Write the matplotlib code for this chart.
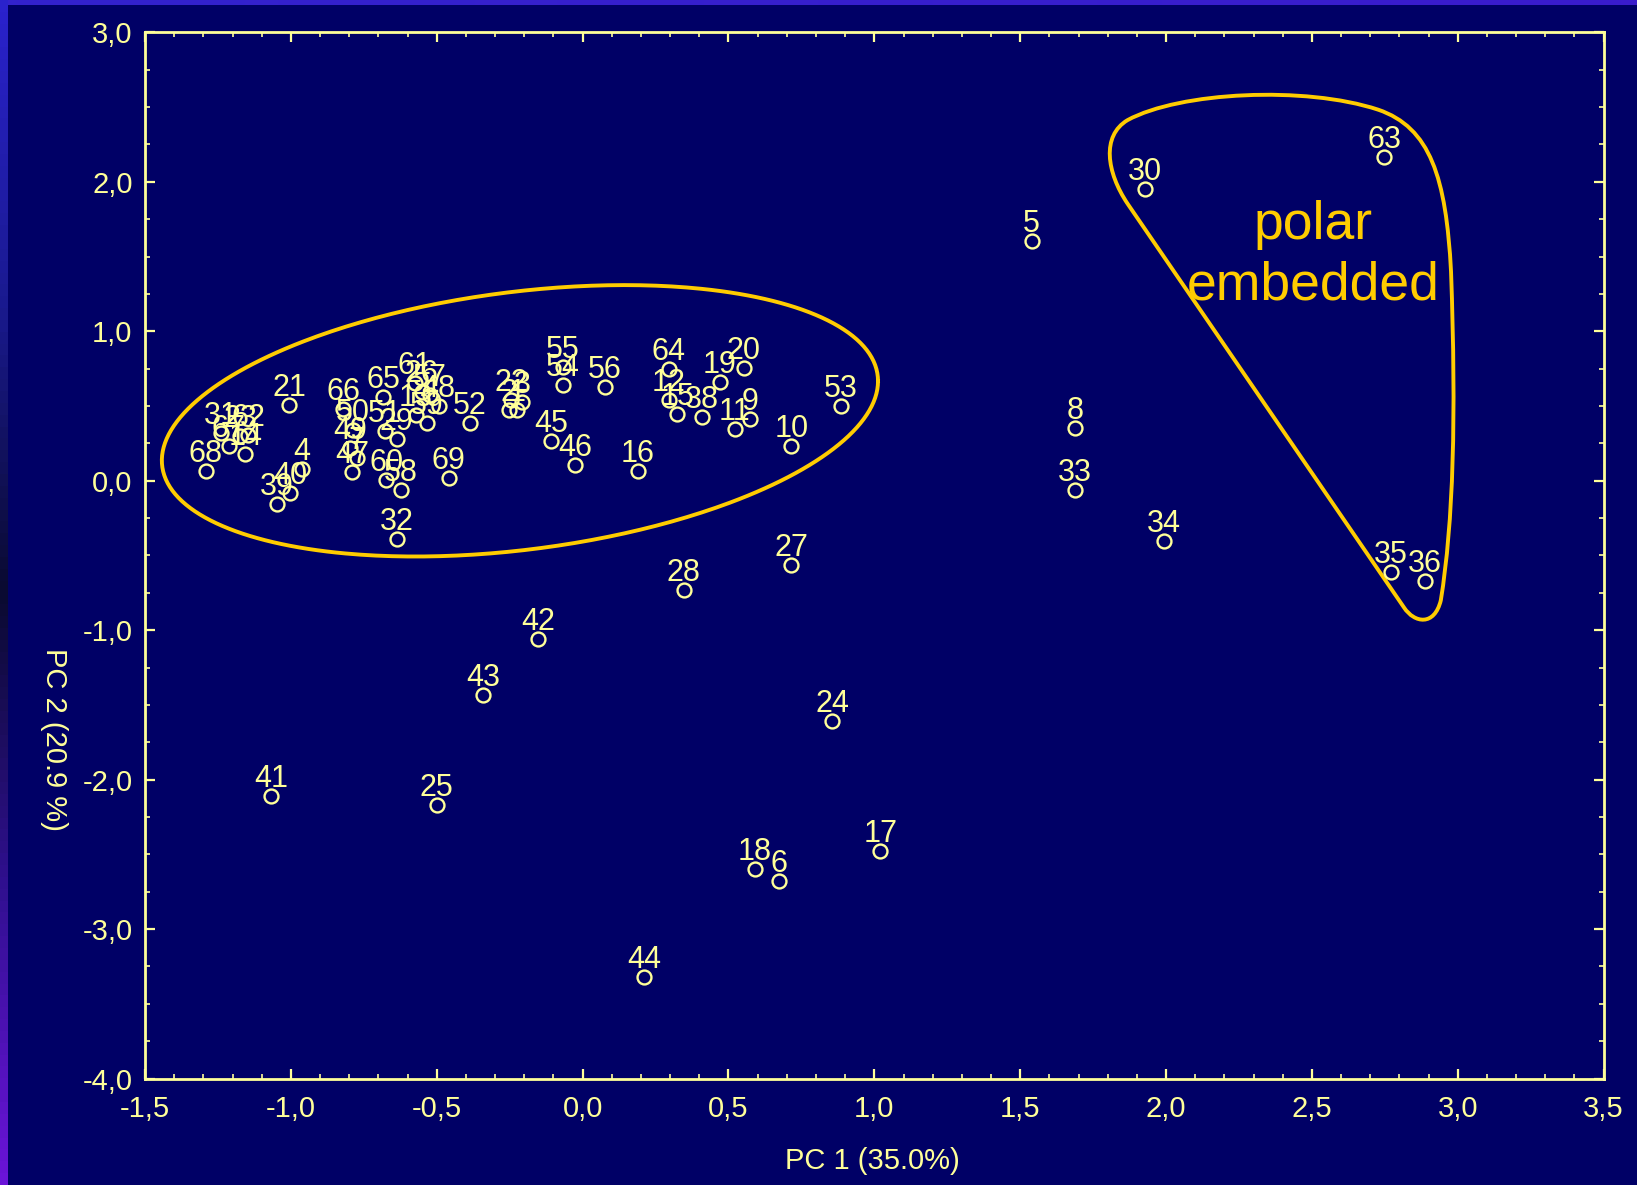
import numpy as np
import matplotlib
matplotlib.use("Agg")
import matplotlib.pyplot as plt
from matplotlib.path import Path
from matplotlib.patches import PathPatch
from matplotlib.ticker import MultipleLocator, FixedLocator, FixedFormatter

plt.rcParams['font.family'] = ['Liberation Sans', 'DejaVu Sans']

# ---- data ----
labels = ['63', '30', '5', '8', '33', '34', '35', '36', '53', '10', '27', '28',
          '42', '43', '24', '41', '25', '17', '18', '6', '44', '16', '46', '45',
          '56', '54', '55', '64', '12', '15', '38', '19', '20', '11', '9', '52',
          '69', '32', '65', '66', '50', '49', '47', '7', '51', '29', '60', '58',
          '21', '4', '40', '39', '68', '31', '67', '23', '14', '62', '61', '26',
          '57', '48', '13', '59', '22', '3', '2', '1']
pc1 = [2.748, 1.929, 1.539, 1.689, 1.689, 1.993, 2.770, 2.888, 0.884, 0.715, 0.715, 0.347,
       -0.154, -0.340, 0.855, -1.067, -0.501, 1.020, 0.590, 0.673, 0.211, 0.189, -0.025, -0.108,
       0.075, -0.068, -0.068, 0.296, 0.296, 0.325, 0.410, 0.471, 0.553, 0.521, 0.574, -0.387,
       -0.459, -0.637, -0.684, -0.820, -0.788, -0.798, -0.791, -0.773, -0.677, -0.637, -0.673, -0.623,
       -1.006, -0.963, -1.003, -1.049, -1.292, -1.239, -1.214, -1.174, -1.156, -1.146, -0.575, -0.552,
       -0.523, -0.494, -0.571, -0.535, -0.244, -0.208, -0.251, -0.226]
pc2 = [2.169, 1.952, 1.603, 0.352, -0.060, -0.402, -0.612, -0.668, 0.499, 0.233, -0.563, -0.731,
       -1.059, -1.436, -1.611, -2.107, -2.170, -2.477, -2.596, -2.680, -3.323, 0.066, 0.108, 0.268,
       0.625, 0.639, 0.764, 0.746, 0.541, 0.446, 0.424, 0.662, 0.752, 0.348, 0.411, 0.387,
       0.017, -0.388, 0.562, 0.478, 0.338, 0.220, 0.059, 0.150, 0.331, 0.282, 0.003, -0.060,
       0.506, 0.080, -0.081, -0.158, 0.066, 0.317, 0.233, 0.296, 0.178, 0.303, 0.653, 0.597,
       0.576, 0.499, 0.440, 0.384, 0.541, 0.527, 0.471, 0.471]

xticks = [-1.5, -1.0, -0.5, 0.0, 0.5, 1.0, 1.5, 2.0, 2.5, 3.0, 3.5]
xtick_labels = ['-1,5', '-1,0', '-0,5', '0,0', '0,5', '1,0', '1,5', '2,0', '2,5', '3,0', '3,5']
yticks = [-4.0, -3.0, -2.0, -1.0, 0.0, 1.0, 2.0, 3.0]
ytick_labels = ['-4,0', '-3,0', '-2,0', '-1,0', '0,0', '1,0', '2,0', '3,0']

x_title = 'PC 1 (35.0%)'
y_title = 'PC 2 (20.9 %)'
group_text = ['polar', 'embedded']

# ---- style ----
BG = '#000066'
YEL = '#ffff99'
GOLD = '#ffcc00'

fig = plt.figure(figsize=(16.37, 11.85), dpi=100, facecolor=BG)

# decorative border strips
top_ax = fig.add_axes([0, 1 - 5 / 1185, 1, 5 / 1185])
top_ax.imshow(np.linspace(0, 1, 100).reshape(1, -1), aspect='auto',
              cmap=matplotlib.colors.LinearSegmentedColormap.from_list('t', ['#3322cc', '#3a1ccc']))
top_ax.axis('off')
left_ax = fig.add_axes([0, 0, 8 / 1637, 1])
left_ax.imshow(np.linspace(0, 1, 100).reshape(-1, 1), aspect='auto',
               cmap=matplotlib.colors.LinearSegmentedColormap.from_list(
                   'l', ['#2a22cc', '#1a1a90', '#0a0a30', '#301090', '#6a14d8']))
left_ax.axis('off')

ax = fig.add_axes([0.08864, 0.08987, 0.89095, 0.88279], facecolor=BG)
ax.set_xlim(-1.5, 3.5)
ax.set_ylim(-4.0, 3.0)

ax.plot(pc1, pc2, linestyle='none', marker='o', markersize=10,
        markerfacecolor='none', markeredgecolor=YEL, markeredgewidth=1.7, zorder=3)
for lab, x, y in zip(labels, pc1, pc2):
    ax.annotate(lab, (x, y), xytext=(0, 6.5), textcoords='offset points',
                ha='center', va='baseline', fontsize=22, color=YEL, zorder=4)

# group outline 1: ellipse around the main cluster
cx, cy = -0.215, 0.401
u = np.array([1.2276, 0.2655])
v = np.array([0.0, 0.8684])
t = np.linspace(0, 2 * np.pi, 400)
ex = cx + u[0] * np.cos(t) + v[0] * np.sin(t)
ey = cy + u[1] * np.cos(t) + v[1] * np.sin(t)
ax.plot(ex, ey, color=GOLD, lw=2.8, zorder=2)

# group outline 2: rounded triangle for "polar embedded"
verts = [(1.868, 1.854),
         (1.796, 2.064), (1.778, 2.308), (1.868, 2.413),
         (2.047, 2.602), (2.476, 2.644), (2.727, 2.483),
         (2.906, 2.364), (2.960, 2.029), (2.977, 1.400),
         (2.995, 0.422), (2.985, -0.277), (2.942, -0.800),
         (2.920, -0.975), (2.852, -0.954), (2.816, -0.849),
         (1.868, 1.854)]
codes = [Path.MOVETO] + [Path.CURVE4] * 15 + [Path.LINETO]
ax.add_patch(PathPatch(Path(verts, codes), facecolor='none', edgecolor=GOLD,
                       lw=2.8, zorder=2))
ax.text(2.505, 1.714, group_text[0], ha='center', va='center', fontsize=38.5, color=GOLD)
ax.text(2.505, 1.309, group_text[1], ha='center', va='center', fontsize=38.5, color=GOLD)

# axes styling
for s in ax.spines.values():
    s.set_color(YEL)
    s.set_linewidth(2.0)
ax.xaxis.set_major_locator(FixedLocator(xticks))
ax.xaxis.set_major_formatter(FixedFormatter(xtick_labels))
ax.yaxis.set_major_locator(FixedLocator(yticks))
ax.yaxis.set_major_formatter(FixedFormatter(ytick_labels))
ax.xaxis.set_minor_locator(MultipleLocator(0.1))
ax.yaxis.set_minor_locator(MultipleLocator(0.25))
ax.tick_params(which='both', direction='in', colors=YEL, top=True, right=True)
ax.tick_params(which='major', length=7, width=1.6, labelsize=21, labelcolor=YEL)
ax.tick_params(which='minor', length=3.5, width=1.2)
ax.tick_params(axis='x', which='major', pad=12)
ax.tick_params(axis='y', which='major', pad=9)

fig.text(0.533, 0.0203, x_title, ha='center', va='center', fontsize=21, color=YEL)
fig.text(0.0332, 0.3764, y_title, ha='center', va='center', fontsize=21, color=YEL,
         rotation=-90)

fig.savefig('out.png', dpi=100, facecolor=BG)
